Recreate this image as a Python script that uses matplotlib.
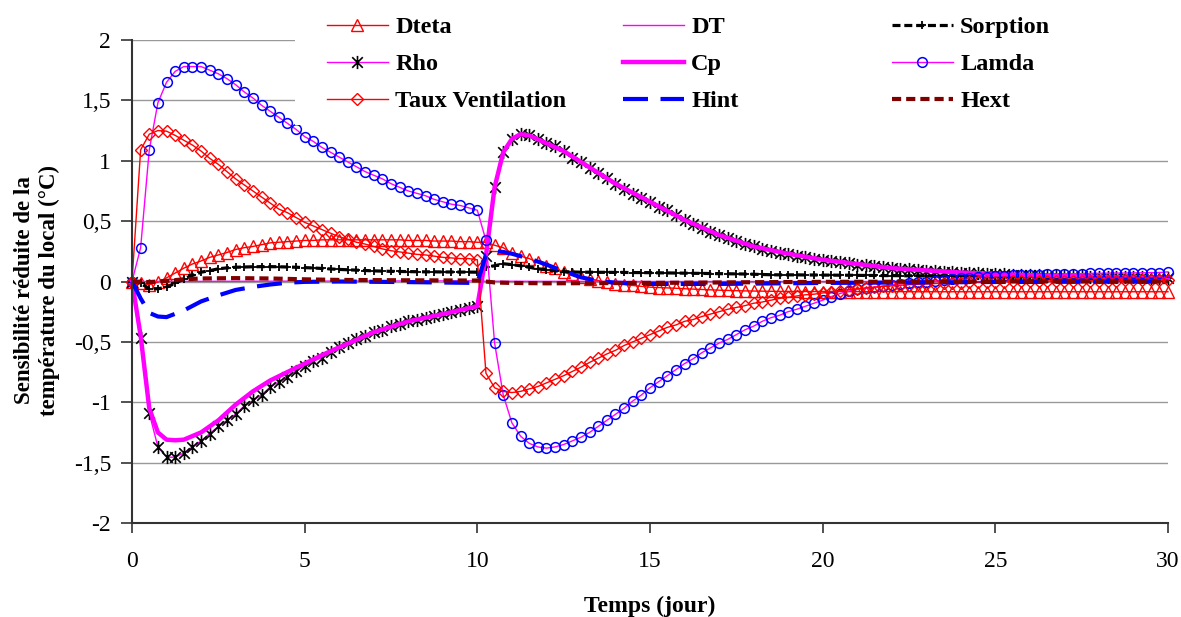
import numpy as np
import matplotlib
matplotlib.use("Agg")
import matplotlib.pyplot as plt
from matplotlib.patches import Rectangle
from matplotlib.path import Path
from matplotlib.ticker import FuncFormatter

plt.rcParams['font.family'] = ['Liberation Serif', 'DejaVu Serif']

# time grid of the simulation (jour), one point every 6 h
temps = np.linspace(0, 30, 121)

dteta = [0, -0.01, -0.025, -0.005,
         0.03, 0.07, 0.11, 0.145,
         0.17, 0.20, 0.22, 0.24,
         0.265, 0.28, 0.29, 0.305,
         0.32, 0.325, 0.33, 0.335,
         0.34, 0.34, 0.345, 0.345,
         0.345, 0.345, 0.345, 0.345,
         0.345, 0.345, 0.345, 0.345,
         0.34, 0.34, 0.34, 0.335,
         0.335, 0.335, 0.33, 0.33,
         0.325, 0.325, 0.30, 0.28,
         0.235, 0.21, 0.19, 0.16,
         0.13, 0.11, 0.077, 0.058,
         0.036, 0.022, 0.008, -0.005,
         -0.02, -0.025, -0.033, -0.04,
         -0.047, -0.05, -0.053, -0.056,
         -0.06, -0.063, -0.066, -0.069,
         -0.072, -0.074, -0.076, -0.078,
         -0.079, -0.08, -0.081, -0.082,
         -0.082, -0.082, -0.083, -0.083,
         -0.083, -0.083, -0.083, -0.084,
         -0.084, -0.084, -0.084, -0.084,
         -0.084, -0.084, -0.085, -0.085,
         -0.085, -0.085, -0.085, -0.085,
         -0.085, -0.085, -0.085, -0.085,
         -0.085, -0.085, -0.085, -0.085,
         -0.085, -0.085, -0.085, -0.085,
         -0.085, -0.085, -0.085, -0.085,
         -0.085, -0.085, -0.085, -0.085,
         -0.085, -0.085, -0.085, -0.085,
         -0.085]

sorption = [0, -0.015, -0.06, -0.06,
            -0.047, -0.015, 0.02, 0.05,
            0.077, 0.09, 0.105, 0.113,
            0.118, 0.12, 0.122, 0.123,
            0.123, 0.122, 0.12, 0.118,
            0.115, 0.112, 0.108, 0.104,
            0.10, 0.097, 0.094, 0.091,
            0.088, 0.086, 0.084, 0.083,
            0.082, 0.081, 0.08, 0.08,
            0.079, 0.079, 0.078, 0.078,
            0.077, 0.12, 0.13, 0.147,
            0.14, 0.13, 0.118, 0.105,
            0.097, 0.088, 0.082, 0.079,
            0.077, 0.077, 0.076, 0.076,
            0.075, 0.075, 0.074, 0.074,
            0.073, 0.072, 0.071, 0.07,
            0.069, 0.068, 0.067, 0.066,
            0.065, 0.064, 0.063, 0.062,
            0.06, 0.058, 0.056, 0.055,
            0.055, 0.055, 0.054, 0.054,
            0.053, 0.053, 0.052, 0.052,
            0.051, 0.05, 0.05, 0.049,
            0.049, 0.048, 0.047, 0.047,
            0.046, 0.045, 0.045, 0.044,
            0.043, 0.043, 0.042, 0.041,
            0.04, 0.04, 0.039, 0.038,
            0.038, 0.037, 0.036, 0.036,
            0.035, 0.035, 0.034, 0.034,
            0.033, 0.033, 0.032, 0.032,
            0.031, 0.031, 0.03, 0.03,
            0.03]

rho = [0, -0.47, -1.09, -1.37,
       -1.455, -1.455, -1.42, -1.37,
       -1.32, -1.26, -1.20, -1.15,
       -1.10, -1.03, -0.985, -0.94,
       -0.875, -0.83, -0.79, -0.74,
       -0.70, -0.66, -0.63, -0.58,
       -0.545, -0.51, -0.475, -0.45,
       -0.42, -0.40, -0.37, -0.35,
       -0.33, -0.315, -0.30, -0.285,
       -0.27, -0.25, -0.24, -0.22,
       -0.205, 0.215, 0.78, 1.07,
       1.18, 1.22, 1.21, 1.18,
       1.145, 1.12, 1.08, 1.02,
       0.99, 0.94, 0.90, 0.86,
       0.81, 0.77, 0.725, 0.69,
       0.66, 0.615, 0.59, 0.55,
       0.51, 0.48, 0.445, 0.41,
       0.385, 0.36, 0.335, 0.31,
       0.29, 0.27, 0.25, 0.24,
       0.23, 0.215, 0.20, 0.19,
       0.18, 0.17, 0.16, 0.15,
       0.14, 0.133, 0.127, 0.12,
       0.11, 0.105, 0.10, 0.095,
       0.09, 0.086, 0.082, 0.078,
       0.074, 0.07, 0.067, 0.064,
       0.061, 0.058, 0.056, 0.054,
       0.052, 0.05, 0.048, 0.046,
       0.044, 0.043, 0.042, 0.04,
       0.039, 0.038, 0.037, 0.036,
       0.035, 0.034, 0.033, 0.032,
       0.031]

lamda = [0, 0.28, 1.09, 1.48,
         1.65, 1.74, 1.78, 1.78,
         1.78, 1.75, 1.72, 1.68,
         1.63, 1.57, 1.52, 1.46,
         1.41, 1.36, 1.31, 1.26,
         1.20, 1.16, 1.11, 1.07,
         1.03, 0.99, 0.95, 0.91,
         0.88, 0.85, 0.81, 0.78,
         0.75, 0.73, 0.71, 0.68,
         0.66, 0.64, 0.63, 0.61,
         0.59, 0.34, -0.51, -0.94,
         -1.17, -1.28, -1.34, -1.37,
         -1.38, -1.37, -1.35, -1.32,
         -1.29, -1.25, -1.20, -1.15,
         -1.10, -1.05, -0.99, -0.94,
         -0.88, -0.83, -0.78, -0.73,
         -0.68, -0.64, -0.59, -0.55,
         -0.51, -0.48, -0.44, -0.40,
         -0.37, -0.33, -0.30, -0.28,
         -0.25, -0.23, -0.205, -0.18,
         -0.155, -0.125, -0.10, -0.08,
         -0.065, -0.055, -0.047, -0.036,
         -0.028, -0.02, -0.014, -0.008,
         -0.002, 0.005, 0.012, 0.02,
         0.026, 0.03, 0.035, 0.04,
         0.044, 0.047, 0.05, 0.053,
         0.055, 0.057, 0.059, 0.061,
         0.063, 0.064, 0.065, 0.067,
         0.068, 0.069, 0.07, 0.07,
         0.071, 0.072, 0.073, 0.074,
         0.08]

taux_ventilation = [0, 1.09, 1.22, 1.25,
                    1.245, 1.21, 1.17, 1.13,
                    1.08, 1.02, 0.97, 0.91,
                    0.85, 0.80, 0.75, 0.70,
                    0.65, 0.60, 0.57, 0.53,
                    0.49, 0.46, 0.43, 0.40,
                    0.37, 0.35, 0.325, 0.31,
                    0.29, 0.27, 0.255, 0.245,
                    0.235, 0.225, 0.22, 0.21,
                    0.20, 0.195, 0.19, 0.19,
                    0.18, -0.76, -0.88, -0.91,
                    -0.92, -0.91, -0.89, -0.87,
                    -0.84, -0.81, -0.78, -0.745,
                    -0.71, -0.67, -0.635, -0.60,
                    -0.57, -0.53, -0.50, -0.47,
                    -0.44, -0.41, -0.38, -0.36,
                    -0.33, -0.315, -0.29, -0.27,
                    -0.25, -0.23, -0.215, -0.20,
                    -0.18, -0.17, -0.155, -0.14,
                    -0.13, -0.12, -0.11, -0.105,
                    -0.095, -0.085, -0.075, -0.067,
                    -0.06, -0.053, -0.047, -0.041,
                    -0.036, -0.031, -0.027, -0.023,
                    -0.02, -0.017, -0.014, -0.011,
                    -0.009, -0.007, -0.005, -0.003,
                    -0.001, 0.0, 0.001, 0.002,
                    0.003, 0.004, 0.005, 0.005,
                    0.006, 0.006, 0.007, 0.007,
                    0.008, 0.008, 0.008, 0.009,
                    0.009, 0.009, 0.01, 0.01,
                    0.01]

# line-only series, sampled where the curve bends
dt_t = [0, 5, 10, 10.25, 15, 20, 25, 30]
dt_v = [0, 0.003, 0.005, 0.002, 0, 0, 0, 0]

cp_t = [0, 0.25, 0.5, 0.75, 1.0, 1.25, 1.5, 1.75, 2.0, 2.5, 3.0, 3.5, 4.0, 4.5,
        5.0, 5.5, 6, 7, 8, 9, 10, 10.25, 10.5, 10.75, 11, 11.25, 11.5, 12,
        12.5, 13, 14, 15, 16, 17, 18, 19, 20, 22, 24, 26, 28, 30]
cp_v = [0, -0.45, -1.05, -1.25, -1.31, -1.315, -1.31, -1.28, -1.25, -1.15,
        -1.02, -0.91, -0.82, -0.75, -0.68, -0.61, -0.545, -0.42, -0.33, -0.27,
        -0.205, 0.215, 0.78, 1.07, 1.18, 1.22, 1.21, 1.145, 1.08, 0.99, 0.81,
        0.66, 0.51, 0.385, 0.29, 0.23, 0.18, 0.11, 0.074, 0.052, 0.039, 0.031]

hint_t = [0, 0.25, 0.5, 0.75, 1.0, 1.5, 2.0, 2.5, 3.0, 3.5, 4.0, 4.5, 5.0, 6,
          8, 10, 10.25, 10.5, 10.75, 11, 11.5, 12, 12.5, 13, 13.5, 14, 15, 17,
          20, 25, 30]
hint_v = [0, -0.14, -0.26, -0.29, -0.295, -0.24, -0.165, -0.115, -0.07, -0.045,
          -0.025, -0.01, -0.003, 0.0, -0.005, -0.012, 0.22, 0.25, 0.245, 0.23,
          0.19, 0.14, 0.085, 0.035, 0.005, -0.01, -0.02, -0.02, -0.012, -0.004, 0.0]

hext_t = [0, 0.5, 1, 1.5, 2, 3, 4, 5, 6, 8, 10, 10.25, 10.5, 11, 12, 14, 16,
          18, 20, 25, 30]
hext_v = [0, -0.005, 0.005, 0.018, 0.025, 0.028, 0.025, 0.018, 0.013, 0.01,
          0.008, 0.0, -0.008, -0.012, -0.015, -0.013, -0.01, -0.006, -0.003,
          0.0, 0.0]

W, H = 1181, 617
fig = plt.figure(figsize=(W / 100, H / 100), dpi=100)
ax = fig.add_axes([132 / W, 1 - 523 / H, (1168 - 132) / W, (523 - 40) / H])

red = '#FF0000'
mag = '#FF00FF'

# excel style star: an X with a vertical bar
star = Path([(-1, -1), (1, 1), (-1, 1), (1, -1), (0, -1.25), (0, 1.25)],
            [Path.MOVETO, Path.LINETO] * 3)

l_dteta, = ax.plot(temps, dteta, color=red, lw=1, marker='^', ms=8,
                   mfc='none', mec=red, mew=1, clip_on=False)
l_dt, = ax.plot(dt_t, dt_v, color=mag, lw=1, clip_on=False)
l_sorp, = ax.plot(temps, sorption, color='black', lw=2.3, ls=(0, (2.5, 1.2)),
                  marker='+', ms=6, mew=1.3, clip_on=False)
l_rho, = ax.plot(temps, rho, color=mag, lw=1, marker=star, ms=9.5,
                 mfc='none', mec='black', mew=1.2, clip_on=False)
l_cp, = ax.plot(cp_t, cp_v, color=mag, lw=3.2, clip_on=False)
l_lamda, = ax.plot(temps, lamda, color=mag, lw=1, marker='o', ms=7,
                   mfc='none', mec='#0000FF', mew=1.1, clip_on=False)
l_taux, = ax.plot(temps, taux_ventilation, color=red, lw=1, marker='D', ms=6.3,
                  mfc='none', mec=red, mew=1, clip_on=False)
l_hint, = ax.plot(hint_t, hint_v, color='#0000FF', lw=3, ls=(0, (6, 3)),
                  clip_on=False)
l_hext, = ax.plot(hext_t, hext_v, color='#800000', lw=3, ls=(0, (2.2, 1.2)),
                  clip_on=False)

ax.set_xlim(0, 30)
ax.set_ylim(-2, 2)
ax.set_xticks(np.arange(0, 31, 5))
ax.set_yticks(np.arange(-2, 2.01, 0.5))
ax.yaxis.set_major_formatter(FuncFormatter(lambda v, p: ('%g' % v).replace('.', ',')))
ax.yaxis.grid(True, color='#999999', lw=1)
ax.set_axisbelow(True)
for s in ['top', 'right']:
    ax.spines[s].set_visible(False)
for s in ['left', 'bottom']:
    ax.spines[s].set_color('#333333')
    ax.spines[s].set_linewidth(1.5)
ax.tick_params(axis='y', direction='out', length=8, width=1.2, pad=7,
               labelsize=17, color='#333333')
ax.tick_params(axis='x', direction='out', length=7, width=1.2, pad=13,
               labelsize=17, color='#333333')

ax.set_xlabel('Temps (jour)', fontsize=17, fontweight='bold', labelpad=17)
fig.text(37 / W, 1 - 290 / H, 'Sensibilité réduite de la\ntempérature du local (°C)',
         rotation=90, ha='center', va='center', fontsize=16.5, fontweight='bold',
         multialignment='center', linespacing=1.2)

# white area behind the legend
fig.add_artist(Rectangle((295 / W, 1 - 125 / H), 1 - 295 / W, 125 / H,
                         transform=fig.transFigure, facecolor='white',
                         edgecolor='none', zorder=1))

cols = [([l_dteta, l_rho, l_taux], ['Dteta', 'Rho', 'Taux Ventilation'], 327),
        ([l_dt, l_cp, l_hint], ['DT', 'Cp', 'Hint'], 623),
        ([l_sorp, l_lamda, l_hext], ['Sorption', 'Lamda', 'Hext'], 892)]
for hs, labs, x0 in cols:
    fig.legend(hs, labs, loc='upper left', bbox_to_anchor=(x0 / W, 1 - 16 / H),
               frameon=False, borderpad=0, borderaxespad=0, handlelength=2.5,
               handletextpad=0.3, labelspacing=0.62, numpoints=1,
               prop={'size': 17.5, 'weight': 'bold'})

fig.savefig('out.png', dpi=100, facecolor='white')
